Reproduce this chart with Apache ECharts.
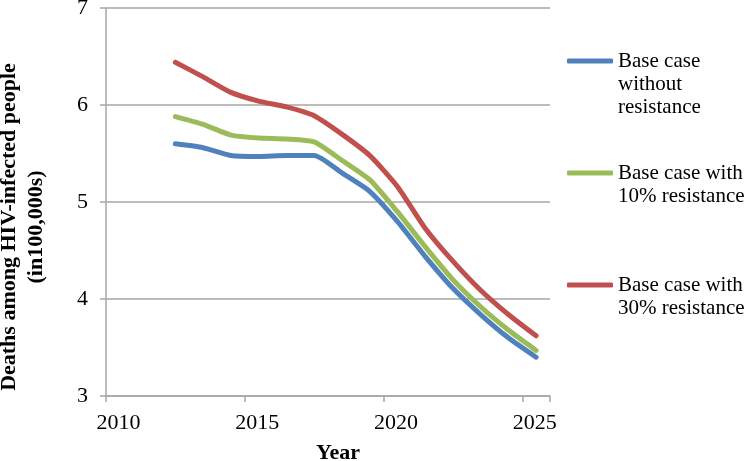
<!DOCTYPE html>
<html>
<head>
<meta charset="utf-8">
<script src="https://cdn.jsdelivr.net/npm/echarts@6/dist/echarts.min.js"></script>
<style>
  html, body { margin: 0; padding: 0; background: #ffffff; }
  #chart { width: 750px; height: 461px; }
</style>
</head>
<body>
<div id="chart"></div>
<script>
// ---- data ----
var years = [2012.5, 2013.5, 2014.5, 2015.5, 2016.5, 2017.5, 2018.5, 2019.5, 2020.5, 2021.5, 2022.5, 2023.5, 2024.5, 2025.5];
var baseNoRes = [5.60, 5.56, 5.48, 5.47, 5.48, 5.48, 5.30, 5.11, 4.80, 4.44, 4.11, 3.84, 3.60, 3.40];
var base10Res = [5.88, 5.80, 5.69, 5.66, 5.65, 5.62, 5.43, 5.23, 4.90, 4.54, 4.20, 3.92, 3.68, 3.47];
var base30Res = [6.44, 6.29, 6.13, 6.04, 5.98, 5.89, 5.70, 5.48, 5.16, 4.73, 4.39, 4.09, 3.84, 3.62];
var seriesNames = ['Base case without resistance', 'Base case with 10% resistance', 'Base case with 30% resistance'];
var legendLines = [['Base case', 'without', 'resistance'], ['Base case with', '10% resistance'], ['Base case with', '30% resistance']];
var xTicks = [2010, 2015, 2020, 2025];
var yTicks = [3, 4, 5, 6, 7];
var xTitle = 'Year';
var yTitle = 'Deaths among HIV-infected people\n(in100,000s)';

var colors = ['#4F81BD', '#9BBB59', '#C0504D'];
var FONT = '"Liberation Serif", "Times New Roman", serif';

function pairs(xs, ys) { return xs.map(function (x, i) { return [x, ys[i]]; }); }

var LH = 23;
function makeLegend(idx, iconCenterY) {
  var lines = legendLines[idx];
  var n = lines.length;
  // prepend blank lines so that the first text line sits level with the icon
  var blanks = [];
  for (var k = 0; k < n - 1; k++) blanks.push('');
  var label = blanks.concat(lines).join('\n');
  var total = 2 * n - 1;
  return {
    data: [seriesNames[idx]],
    left: 567,
    top: iconCenterY - total * LH / 2,
    orient: 'vertical',
    padding: 0,
    itemWidth: 46,
    itemHeight: 5,
    icon: 'roundRect',
    selectedMode: false,
    formatter: function () { return label; },
    textStyle: {
      fontFamily: FONT,
      fontSize: 21,
      color: '#000000',
      lineHeight: LH
    }
  };
}

var chart = echarts.init(document.getElementById('chart'), null, { renderer: 'canvas' });
chart.setOption({
  animation: false,
  backgroundColor: '#ffffff',
  grid: { left: 106, top: 8, right: 200, bottom: 65, containLabel: false, outerBoundsMode: 'none' },
  xAxis: {
    type: 'value',
    min: 2010, max: 2026, interval: 5,
    name: xTitle,
    nameLocation: 'middle',
    nameGap: 46,
    nameTextStyle: { fontFamily: FONT, fontSize: 22, fontWeight: 'bold', color: '#000', padding: [0, 0, 0, 20] },
    axisLine: { show: true, lineStyle: { color: '#A6A6A6', width: 1.5 } },
    axisTick: { show: true, length: 6, lineStyle: { color: '#A6A6A6', width: 1.5 } },
    axisLabel: {
      fontFamily: FONT, fontSize: 22, color: '#000', margin: 16,
      padding: [0, 0, 0, 25],
      formatter: function (v) { return xTicks.indexOf(v) >= 0 ? String(v) : ''; }
    },
    splitLine: { show: false }
  },
  yAxis: {
    type: 'value',
    min: 3, max: 7, interval: 1,
    name: yTitle,
    nameLocation: 'middle',
    nameGap: 56,
    nameTextStyle: { fontFamily: FONT, fontSize: 22, fontWeight: 'bold', color: '#000', lineHeight: 27, padding: [0, 50, 0, 0] },
    axisLine: { show: true, lineStyle: { color: '#A6A6A6', width: 1.5 } },
    axisTick: { show: true, length: 6, lineStyle: { color: '#A6A6A6', width: 1.5 } },
    axisLabel: {
      fontFamily: FONT, fontSize: 22, color: '#000', margin: 18,
      formatter: function (v) { return yTicks.indexOf(v) >= 0 ? String(v) : ''; }
    },
    splitLine: { show: true, lineStyle: { color: '#A6A6A6', width: 1.5 } }
  },
  legend: [
    makeLegend(0, 61),
    makeLegend(1, 173),
    makeLegend(2, 285)
  ],
  series: [
    { name: seriesNames[0], type: 'line', data: pairs(years, baseNoRes), showSymbol: false, symbol: 'none', smooth: 0.2, lineStyle: { width: 5, color: colors[0], cap: 'round', join: 'round' }, itemStyle: { color: colors[0] }, z: 3 },
    { name: seriesNames[1], type: 'line', data: pairs(years, base10Res), showSymbol: false, symbol: 'none', smooth: 0.2, lineStyle: { width: 5, color: colors[1], cap: 'round', join: 'round' }, itemStyle: { color: colors[1] }, z: 3 },
    { name: seriesNames[2], type: 'line', data: pairs(years, base30Res), showSymbol: false, symbol: 'none', smooth: 0.2, lineStyle: { width: 5, color: colors[2], cap: 'round', join: 'round' }, itemStyle: { color: colors[2] }, z: 3 }
  ]
});
</script>
</body>
</html>
